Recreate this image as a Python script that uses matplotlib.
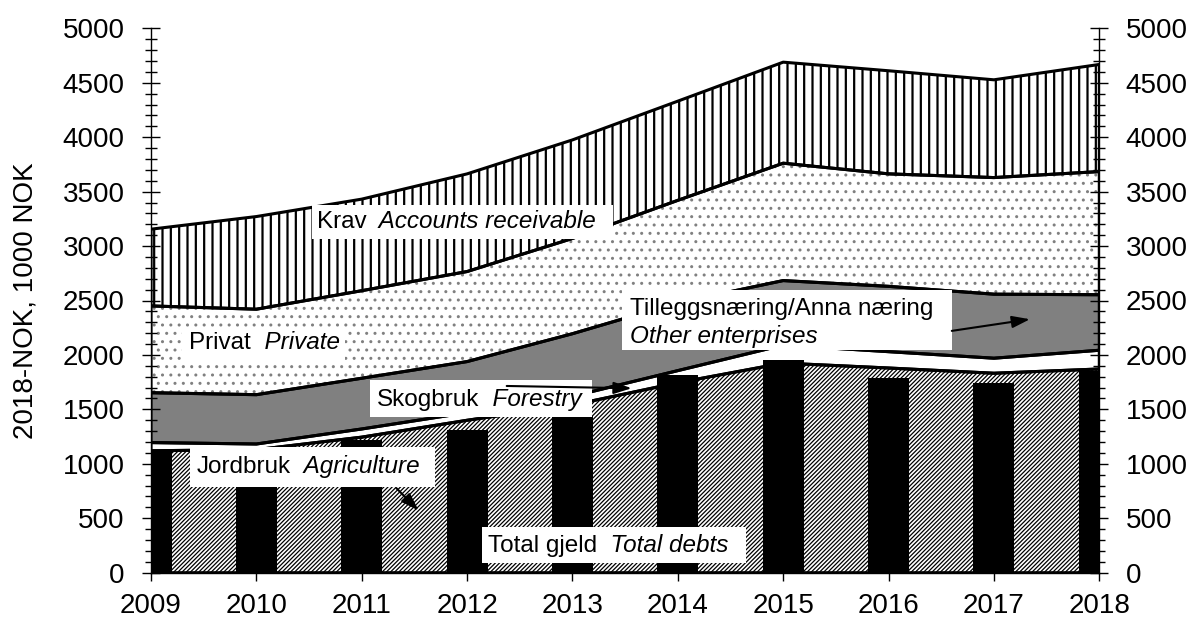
import numpy as np
import matplotlib
matplotlib.use("Agg")
import matplotlib.pyplot as plt
from matplotlib.patches import Rectangle
from matplotlib.ticker import MultipleLocator

plt.rcParams["font.family"] = ["Liberation Sans", "DejaVu Sans"]

# --- data (2018-NOK, 1000 NOK) -----------------------------------------------
years = [2009, 2010, 2011, 2012, 2013, 2014, 2015, 2016, 2017, 2018]
agriculture = [1120, 1130, 1245, 1400, 1540, 1745, 1925, 1880, 1832, 1871]
forestry = [75, 52, 75, 70, 80, 111, 165, 150, 138, 172]
other_enterprises = [458, 453, 466, 469, 575, 624, 593, 600, 588, 510]
private = [797, 785, 804, 827, 875, 940, 1078, 1033, 1071, 1131]
receivable = [705, 851, 841, 897, 905, 911, 928, 947, 898, 984]
total_debts = [1130, 1090, 1219, 1315, 1440, 1816, 1956, 1786, 1746, 1856]

layers = [
    # values, facecolor, hatch colour, hatch, hatch linewidth
    (agriculture, "white", "black", "////////", 0.9),
    (forestry, "white", "black", "", 1.0),
    (other_enterprises, "#808080", "black", "", 1.0),
    (private, "white", "#808080", "..", 1.0),
    (receivable, "white", "black", "||", 1.6),
]

fig = plt.figure(figsize=(11.92, 6.21), dpi=100)
ax = fig.add_axes([151 / 1192, 1 - 572.7 / 621, (1099.3 - 151) / 1192, (572.7 - 28.3) / 621])

x = np.array(years, dtype=float)
bottom = np.zeros(len(years))
for vals, fc, hc, hatch, hlw in layers:
    top = bottom + np.array(vals, dtype=float)
    with plt.rc_context({"hatch.linewidth": hlw}):
        coll = ax.fill_between(x, bottom, top, facecolor=fc, edgecolor=hc,
                               hatch=hatch or None, linewidth=0, zorder=1)
    if hasattr(coll, "set_hatch_linewidth"):
        coll.set_hatch_linewidth(hlw)
    ax.fill_between(x, bottom, top, facecolor="none", edgecolor="black",
                    linewidth=2.2, zorder=2)
    bottom = top

# total debts as black bars
ax.bar(years, total_debts, width=0.39, color="black", linewidth=0, zorder=3)

# --- labels with white boxes ---------------------------------------------
FS = 17.5


def box(x0, x1, y0, y1):
    ax.add_patch(Rectangle((x0, y0), x1 - x0, y1 - y0, facecolor="white",
                           edgecolor="none", zorder=5))


def label(xp, yp, plain, italic=""):
    t = ax.text(xp, yp, plain, fontsize=FS, ha="left", va="center", zorder=6)
    if italic:
        ax.annotate(italic, xy=(1, 0.5), xycoords=t, ha="left", va="center",
                    fontsize=FS, style="italic", zorder=6)
    return t


def arrow(start, end):
    ax.annotate("", xy=end, xytext=start, zorder=7,
                arrowprops=dict(arrowstyle="-|>,head_length=0.6,head_width=0.2",
                                color="black", lw=1.5, mutation_scale=18,
                                shrinkA=0, shrinkB=0))


box(2010.525, 2013.387, 3063, 3378)
label(2010.573, 3222, "Krav", "  Accounts receivable")

box(2009.294, 2010.842, 1954, 2260)
label(2009.36, 2110, "Privat", "  Private")

box(2013.467, 2016.60, 2046, 2597)
label(2013.544, 2425, "Tilleggsnæring/Anna næring")
ax.text(2013.544, 2170, "Other enterprises", fontsize=FS, style="italic",
        ha="left", va="center", zorder=6)
arrow((2016.60, 2221), (2017.342, 2328))

box(2011.078, 2013.182, 1433, 1770)
label(2011.142, 1587, "Skogbruk", "  Forestry")
arrow((2012.376, 1715), (2013.562, 1694))

box(2009.37, 2011.695, 790, 1158)
label(2009.434, 974, "Jordbruk", "  Agriculture")
arrow((2011.33, 775), (2011.54, 570))

box(2012.138, 2014.643, 86, 423)
label(2012.2, 248, "Total gjeld", "  Total debts")

# --- axes ----------------------------------------------------------------
ax.set_xlim(2009, 2018)
ax.set_ylim(0, 5000)
ax.set_xticks(years)
ax.set_xticklabels([str(y) for y in years])
ax.yaxis.set_major_locator(MultipleLocator(500))
ax.yaxis.set_minor_locator(MultipleLocator(100))

ax.tick_params(axis="x", direction="out", length=5.5, width=1, pad=9, labelsize=20)
ax.tick_params(axis="y", which="major", direction="inout", length=12.5, width=1,
               left=True, right=True, labelleft=True, labelright=True,
               pad=12.7, labelsize=20)
ax.tick_params(axis="y", which="minor", direction="inout", length=8, width=1,
               left=True, right=True)

ax.spines["top"].set_visible(False)
for s in ("left", "right", "bottom"):
    ax.spines[s].set_linewidth(1)

ax.set_ylabel("2018-NOK, 1000 NOK", fontsize=20)
ax.yaxis.set_label_coords(-0.1184, 0.5)

fig.savefig("out.png", dpi=100)
